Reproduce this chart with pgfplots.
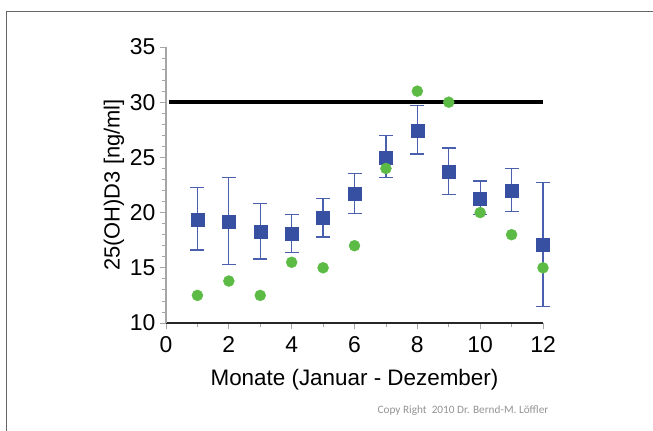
\documentclass[border=0pt]{standalone}
\usepackage{pgfplots}
\pgfplotsset{compat=1.18}
\usepackage{fontspec}
\setmainfont{Liberation Sans}
\newfontfamily\carlito{Carlito}

\definecolor{vdblue}{HTML}{3850A2}
\definecolor{vdbar}{HTML}{4A60AE}
\definecolor{vdgreen}{HTML}{5CBB45}

% month, mean, error up, error down, second series
\pgfplotstableread{
m  y     ep    em    g
1  19.35 2.90  2.75  12.5
2  19.20 4.00  3.90  13.8
3  18.30 2.50  2.50  12.5
4  18.10 1.70  1.70  15.5
5  19.50 1.75  1.70  15.0
6  21.70 1.85  1.80  17.0
7  25.00 2.00  1.80  24.0
8  27.45 2.25  2.15  31.0
9  23.70 2.15  2.05  30.0
10 21.30 1.55  1.50  20.0
11 22.00 2.00  1.90  18.0
12 17.10 5.60  5.60  15.0
}\vitd

\begin{document}
\begin{tikzpicture}
\useasboundingbox (-166bp,-108bp) rectangle (487bp,323bp);
% slide frame
\draw[line width=1bp, gray!80!black] (-159bp,-108bp) -- (-159bp,311bp) -- (487bp,311bp);

\begin{axis}[
    at={(0,0)}, anchor=south west,
    scale only axis,
    width=377bp, height=276bp,
    xmin=0, xmax=12, ymin=10, ymax=35,
    axis lines=left,
    axis line style={-},
    x axis line style={black!85, line width=1.6bp},
    y axis line style={gray!70, line width=1.6bp},
    xtick={0,2,...,12},
    minor xtick={1,3,...,11},
    ytick={10,15,...,35},
    minor ytick={11,12,13,14,16,17,18,19,21,22,23,24,26,27,28,29,31,32,33,34},
    tick align=outside,
    major tick length=6bp, minor tick length=4bp,
    every tick/.style={gray!70, line width=0.8bp},
    /pgf/number format/assume math mode=true,
    tick label style={font=\fontsize{23}{27}\selectfont},
    xticklabel style={yshift=-4bp},
    yticklabel style={xshift=-1bp},
    xlabel={Monate (Januar - Dezember)},
    ylabel={25(OH)D3 [ng/ml]},
    every axis x label/.style={at={(axis description cs:0.5,0)}, yshift=-57bp, anchor=center,
        font=\fontsize{22.5}{27}\selectfont},
    every axis y label/.style={at={(axis description cs:0,0.5)}, xshift=-52bp, rotate=90, anchor=center,
        font=\fontsize{22}{26}\selectfont},
    clip=false,
]
\addplot[only marks, mark=square*, mark size=6.5bp, vdblue,
    error bars/.cd, y dir=both, y explicit,
    error bar style={vdbar, line width=1.3bp},
    error mark options={vdbar, line width=1.3bp, rotate=90, mark size=7bp}]
    table[x=m, y=y, y error plus=ep, y error minus=em] {\vitd};
\addplot[only marks, mark=*, mark size=5.5bp, vdgreen] table[x=m, y=g] {\vitd};
\addplot[black, line width=4bp] coordinates {(0.08,30) (12,30)};
\end{axis}

\node[font=\carlito\fontsize{11.3}{13}\selectfont, text=gray!85] at (297bp,-88bp) {Copy Right\ \ 2010 Dr. Bernd-M. Löffler};
\end{tikzpicture}
\end{document}
